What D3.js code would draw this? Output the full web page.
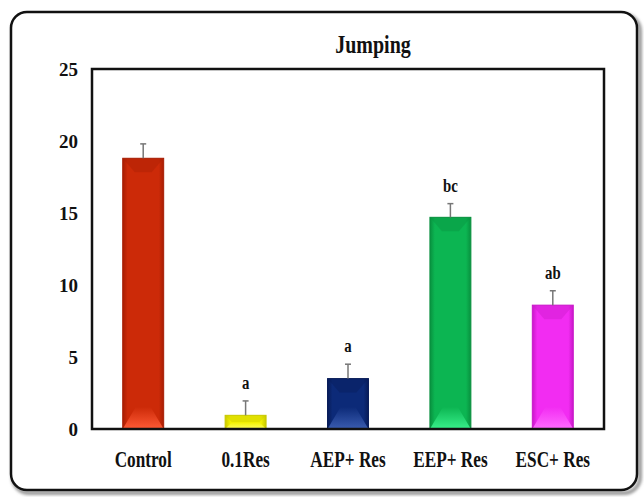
<!DOCTYPE html>
<html>
<head>
<meta charset="utf-8">
<script src="https://cdn.jsdelivr.net/npm/d3@7"></script>
<style>
  body { margin: 0; background: #fff; }
  svg text { font-family: "Liberation Serif", "Times New Roman", Times, "DejaVu Serif", serif !important; font-weight: bold; fill: #111; }
</style>
</head>
<body>
<div id="chart"></div>
<script>
// data
var categories = ["Control", "0.1Res", "AEP+ Res", "EEP+ Res", "ESC+ Res"];
var values = [18.8, 0.95, 3.5, 14.7, 8.6];
var errors = [1.0, 1.0, 1.0, 0.95, 1.0];
var sigLabels = ["", "a", "a", "bc", "ab"];
var yTicks = [0, 5, 10, 15, 20, 25];
var barColors = ["#cc2a08", "#f2f000", "#0c2a78", "#0cb552", "#f22cf2"];
var lightColors = ["#ff5a35", "#ffff60", "#3a5cb0", "#38f08a", "#ff6aff"];
var darkColors = ["#a81e04", "#c8c800", "#081c58", "#08903e", "#c818c8"];

var W = 644, H = 497;
var margin = {top: 69, right: 40, bottom: 68, left: 92};

var svg = d3.select("#chart").append("svg")
  .attr("width", W).attr("height", H);

var defs = svg.append("defs");
defs.append("filter").attr("id", "blur")
  .append("feGaussianBlur").attr("stdDeviation", 1.5);

// outer rounded frame with shadow
svg.append("rect")
  .attr("x", 13).attr("y", 15).attr("width", 627).attr("height", 478)
  .attr("rx", 16).attr("fill", "none")
  .attr("stroke", "#999").attr("stroke-width", 4)
  .attr("filter", "url(#blur)");
svg.append("rect")
  .attr("x", 11).attr("y", 12).attr("width", 626).attr("height", 478)
  .attr("rx", 16).attr("fill", "#fff")
  .attr("stroke", "#111").attr("stroke-width", 2.5);

var x = d3.scaleBand()
  .domain(categories)
  .range([margin.left, W - margin.right])
  .paddingInner(0.6)
  .paddingOuter(0.3);

var y = d3.scaleLinear()
  .domain([0, 25])
  .range([H - margin.bottom, margin.top]);

// gradients for the bevelled bars
categories.forEach(function(c, i) {
  var g = defs.append("linearGradient").attr("id", "grad" + i)
    .attr("x1", "0").attr("x2", "1").attr("y1", "0").attr("y2", "0");
  g.append("stop").attr("offset", "0").attr("stop-color", darkColors[i]);
  g.append("stop").attr("offset", "0.12").attr("stop-color", barColors[i]);
  g.append("stop").attr("offset", "0.88").attr("stop-color", barColors[i]);
  g.append("stop").attr("offset", "1").attr("stop-color", darkColors[i]);
  var gb = defs.append("linearGradient").attr("id", "gradB" + i)
    .attr("x1", "0").attr("x2", "0").attr("y1", "0").attr("y2", "1");
  gb.append("stop").attr("offset", "0").attr("stop-color", barColors[i]);
  gb.append("stop").attr("offset", "1").attr("stop-color", lightColors[i]);
});

var data = categories.map(function(c, i) {
  return {cat: c, val: values[i], err: errors[i], sig: sigLabels[i], i: i};
});

// bars
var bars = svg.append("g").selectAll("g.bar")
  .data(data).enter().append("g").attr("class", "bar");

bars.append("rect")
  .attr("x", function(d) { return x(d.cat); })
  .attr("y", function(d) { return y(d.val); })
  .attr("width", x.bandwidth())
  .attr("height", function(d) { return y(0) - y(d.val); })
  .attr("fill", function(d) { return "url(#grad" + d.i + ")"; })
  .attr("stroke", function(d) { return darkColors[d.i]; })
  .attr("stroke-width", 1);

// top bevel (darker)
bars.append("path")
  .attr("d", function(d) {
    var x0 = x(d.cat), x1 = x0 + x.bandwidth(), t = y(d.val);
    var h = y(0) - t, b = Math.min(14, h / 2), s = Math.min(12, h / 2);
    return "M" + x0 + "," + t + "L" + x1 + "," + t +
      "L" + (x1 - s) + "," + (t + b) + "L" + (x0 + s) + "," + (t + b) + "Z";
  })
  .attr("fill", function(d) { return darkColors[d.i]; })
  .attr("opacity", 0.4);

// bottom bevel (lighter)
bars.append("path")
  .attr("d", function(d) {
    var x0 = x(d.cat), x1 = x0 + x.bandwidth(), bot = y(0);
    var h = bot - y(d.val), b = Math.min(22, h / 2), s = Math.min(13, h / 2);
    return "M" + x0 + "," + bot + "L" + x1 + "," + bot +
      "L" + (x1 - s) + "," + (bot - b) + "L" + (x0 + s) + "," + (bot - b) + "Z";
  })
  .attr("fill", function(d) { return "url(#gradB" + d.i + ")"; });

// error bars
var eb = svg.append("g").selectAll("g.err")
  .data(data).enter().append("g").attr("class", "err")
  .attr("stroke", "#777").attr("stroke-width", 1.5);
eb.append("line")
  .attr("x1", function(d) { return x(d.cat) + x.bandwidth() / 2; })
  .attr("x2", function(d) { return x(d.cat) + x.bandwidth() / 2; })
  .attr("y1", function(d) { return y(d.val); })
  .attr("y2", function(d) { return y(d.val + d.err); });
eb.append("line")
  .attr("x1", function(d) { return x(d.cat) + x.bandwidth() / 2 - 3; })
  .attr("x2", function(d) { return x(d.cat) + x.bandwidth() / 2 + 3; })
  .attr("y1", function(d) { return y(d.val + d.err); })
  .attr("y2", function(d) { return y(d.val + d.err); });

// significance letters
svg.append("g").selectAll("text")
  .data(data).enter().append("text")
  .attr("transform", function(d) {
    return "translate(" + (x(d.cat) + x.bandwidth() / 2) + "," + (y(d.val + d.err) - 12) + ") scale(0.78,1)";
  })
  .attr("text-anchor", "middle")
  .style("font-size", "19px")
  .text(function(d) { return d.sig; });

// plot frame
svg.append("rect")
  .attr("x", margin.left).attr("y", margin.top)
  .attr("width", W - margin.right - margin.left)
  .attr("height", y(0) - margin.top)
  .attr("fill", "none").attr("stroke", "#111").attr("stroke-width", 2.5);

// y axis
var yAxis = svg.append("g")
  .attr("transform", "translate(" + margin.left + ",0)")
  .call(d3.axisLeft(y).tickValues(yTicks).tickSize(0).tickPadding(14));
yAxis.select(".domain").remove();
yAxis.selectAll("text")
  .style("font-size", "19px")
  .attr("fill", "#111");

// x axis
var xAxis = svg.append("g")
  .attr("transform", "translate(0," + y(0) + ")")
  .call(d3.axisBottom(x).tickSize(0).tickPadding(22));
xAxis.select(".domain").remove();
xAxis.selectAll("text")
  .style("font-size", "23px")
  .attr("fill", "#111")
  .attr("transform", "scale(0.75,1)");

// title
svg.append("text")
  .attr("transform", "translate(373,53) scale(0.8,1)")
  .attr("text-anchor", "middle")
  .style("font-size", "25px")
  .text("Jumping");
</script>
</body>
</html>
